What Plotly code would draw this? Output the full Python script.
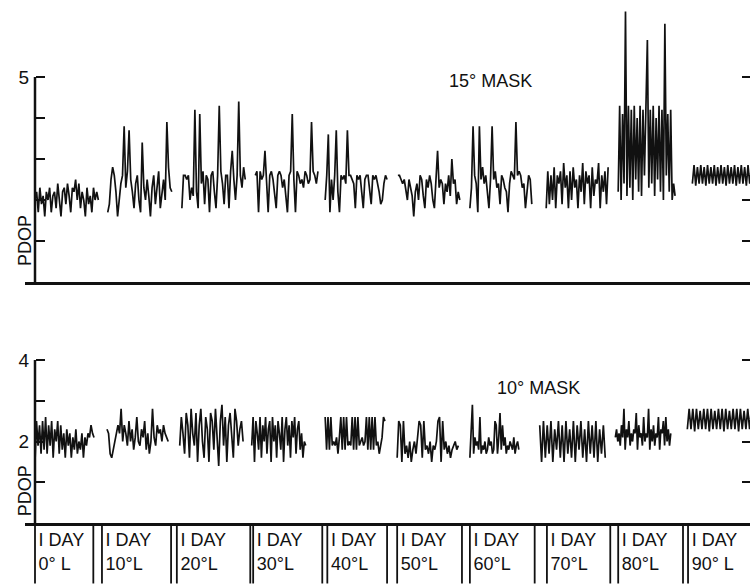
import plotly.graph_objects as go

W, H = 750, 586

# ---------------- data ----------------
LONGITUDES = ["0° L", "10°L", "20°L", "30°L", "40°L", "50°L", "60°L", "70°L", "80°L", "90° L"]
DAY_LABEL = "I DAY"

# x-extent of each one-day record (x unit = 1/10 of a panel cell)
TOP_START = [0.0, 10.1, 20.4, 30.6, 40.3, 50.4, 60.4, 71.0, 81.0, 91.3]
TOP_END = [8.8, 19.0, 29.2, 39.3, 48.9, 59.0, 69.0, 79.6, 88.9, 99.5]
BOT_START = [0.0, 10.0, 20.1, 30.1, 40.3, 50.3, 60.4, 70.1, 80.6, 90.6]
BOT_END = [8.2, 18.5, 28.9, 37.6, 48.6, 58.8, 67.2, 79.2, 88.3, 99.5]

# 15 deg mask PDOP records
M15_00 = [2.0, 2.2, 1.7, 2.3, 1.9, 2.1, 1.6, 2.2, 2.0, 2.3, 1.7, 2.1, 2.2, 1.8, 2.4, 2.0, 1.6, 2.2, 2.3, 1.9,
          2.4, 2.1, 1.7, 2.3, 2.2, 2.5, 2.0, 2.4, 1.8, 2.2, 2.0, 1.6, 2.3, 1.9, 2.1, 1.7, 2.3, 2.0, 2.2, 2.0]
M15_10 = [1.7, 1.9, 2.5, 2.8, 2.6, 2.2, 1.6, 2.0, 2.4, 2.6, 3.8, 2.3, 2.7, 3.7, 2.5, 2.2, 1.8, 2.4, 2.6, 2.0,
          1.7, 3.4, 2.3, 2.0, 2.5, 2.1, 1.6, 2.3, 2.6, 1.9, 2.4, 2.7, 1.8, 2.2, 2.5, 2.0, 3.9, 2.8, 2.3, 2.2]
M15_20 = [1.8, 2.6, 2.6, 2.5, 2.6, 2.0, 2.3, 2.1, 4.2, 2.2, 1.8, 4.1, 2.4, 2.7, 1.9, 2.6, 2.5, 1.7, 2.6, 2.7,
          2.2, 1.8, 2.6, 4.3, 2.7, 2.4, 1.9, 2.6, 2.6, 1.8, 2.7, 3.2, 2.5, 2.0, 2.6, 4.4, 2.6, 2.3, 2.8, 2.5]
M15_30 = [2.6, 2.7, 1.7, 2.7, 2.5, 2.6, 3.2, 2.4, 1.7, 2.6, 2.7, 2.5, 2.2, 1.8, 2.6, 2.7, 2.6, 2.3, 2.5, 2.1,
          1.7, 2.6, 2.7, 4.1, 2.5, 1.7, 2.7, 2.6, 2.4, 2.5, 2.3, 2.7, 2.6, 2.4, 2.5, 3.9, 2.7, 2.6, 2.4, 2.7]
M15_40 = [2.0, 2.6, 3.6, 1.7, 2.5, 2.0, 2.6, 3.7, 2.2, 1.7, 2.6, 2.5, 2.6, 2.4, 3.7, 2.6, 2.6, 2.5, 2.4, 1.8,
          2.6, 2.5, 2.6, 2.2, 1.8, 2.5, 2.6, 2.6, 2.3, 1.9, 2.6, 2.5, 2.6, 2.4, 2.2, 1.9, 2.0, 2.4, 2.6, 2.5]
M15_50 = [2.6, 2.6, 2.5, 2.4, 2.5, 2.2, 2.0, 2.5, 2.3, 2.1, 1.6, 2.2, 2.4, 2.0, 2.6, 2.5, 2.1, 1.8, 2.5, 2.3,
          2.6, 2.4, 2.0, 1.8, 2.5, 3.2, 2.3, 2.5, 2.4, 1.9, 2.4, 2.2, 2.6, 2.1, 3.0, 2.4, 2.5, 1.9, 2.2, 2.0]
M15_60 = [1.8, 2.3, 3.8, 2.6, 2.4, 1.7, 3.8, 2.5, 2.8, 2.4, 2.6, 2.2, 1.8, 2.5, 3.8, 2.5, 2.7, 2.3, 2.4, 1.9,
          2.6, 2.5, 2.3, 2.2, 1.7, 2.4, 2.7, 2.6, 2.5, 3.9, 2.6, 2.7, 2.6, 2.3, 2.4, 1.8, 2.2, 2.6, 2.5, 1.9]
M15_70 = [1.8, 2.7, 1.9, 2.6, 2.0, 2.8, 1.8, 2.6, 2.4, 2.7, 1.9, 2.9, 2.3, 2.6, 1.8, 2.7, 2.0, 2.8, 2.3, 2.5,
          1.8, 2.6, 2.2, 2.9, 1.9, 2.7, 2.4, 2.6, 1.8, 2.8, 2.1, 2.5, 2.4, 2.9, 1.8, 2.6, 2.2, 2.7, 1.9, 2.8]
M15_80 = [2.2, 4.3, 2.0, 4.1, 2.4, 6.6, 2.1, 4.3, 2.3, 4.2, 2.0, 4.3, 2.5, 4.0, 2.2, 4.3, 2.1, 4.2, 2.6, 4.1,
          5.9, 2.3, 4.2, 2.4, 4.3, 2.1, 4.0, 2.5, 4.3, 2.2, 4.2, 2.0, 6.3, 2.6, 4.1, 2.2, 4.2, 2.0, 2.4, 2.1]
M15_90 = [2.4, 2.85, 2.35, 2.8, 2.4, 2.85, 2.4, 2.8, 2.35, 2.85, 2.4, 2.8, 2.4, 2.85, 2.35, 2.8, 2.4, 2.85,
          2.4, 2.8, 2.35, 2.85, 2.4, 2.8, 2.4, 2.85, 2.35, 2.8, 2.4, 2.85, 2.4, 2.8, 2.35, 2.85, 2.4, 2.8]

# 10 deg mask PDOP records
M10_00 = [1.5, 2.5, 1.9, 2.4, 1.7, 2.5, 1.8, 2.6, 1.7, 2.4, 1.9, 2.5, 1.6, 2.3, 2.0, 2.5, 1.7, 2.4, 1.8, 2.2,
          1.6, 2.3, 1.9, 2.2, 1.6, 2.1, 1.8, 2.3, 1.7, 2.0, 1.8, 2.2, 1.6, 2.1, 1.9, 2.2, 2.1, 2.4, 2.2, 2.1]
M10_10 = [2.3, 2.2, 1.7, 1.6, 1.8, 2.0, 2.2, 2.4, 2.2, 2.8, 2.0, 2.4, 2.2, 1.9, 2.5, 2.0, 2.3, 1.8, 2.1, 2.6,
          2.0, 1.9, 2.3, 2.1, 2.5, 1.8, 2.2, 1.7, 2.0, 2.8, 2.1, 1.9, 2.4, 2.2, 2.3, 2.0, 2.4, 2.2, 2.1, 2.0]
M10_20 = [1.9, 2.6, 2.2, 1.7, 2.7, 2.4, 1.6, 2.8, 2.2, 1.9, 2.7, 1.5, 2.4, 2.8, 2.0, 1.6, 2.6, 2.3, 1.5, 2.7,
          2.5, 1.8, 2.8, 2.2, 1.4, 2.5, 2.9, 1.9, 2.6, 1.5, 2.4, 2.7, 2.0, 1.6, 2.8, 2.5, 1.9, 2.3, 2.5, 2.0]
M10_30 = [1.9, 2.6, 1.5, 2.5, 2.2, 1.8, 2.6, 1.6, 2.4, 2.0, 2.6, 1.7, 2.3, 2.5, 1.5, 2.6, 2.0, 2.4, 1.6, 2.5,
          2.2, 1.8, 2.6, 1.5, 2.3, 2.6, 1.9, 2.4, 1.6, 2.5, 2.1, 2.6, 1.7, 2.3, 2.5, 1.8, 2.2, 1.6, 2.0, 1.9]
M10_40 = [2.6, 1.8, 2.6, 1.8, 2.6, 1.9, 2.0, 1.9, 2.1, 1.7, 2.1, 2.6, 1.8, 2.6, 1.8, 2.6, 1.9, 2.0, 1.9, 2.6,
          1.8, 2.6, 1.8, 2.6, 1.9, 2.0, 2.1, 1.9, 2.0, 2.6, 1.8, 2.6, 1.8, 2.6, 1.8, 2.6, 1.9, 2.0, 1.7, 1.9,
          2.1, 2.6, 2.5]
M10_50 = [1.6, 2.5, 2.4, 1.5, 2.5, 1.7, 1.9, 1.6, 2.0, 1.5, 1.8, 2.0, 1.7, 2.1, 2.5, 2.4, 1.6, 2.5, 1.8, 1.9,
          1.7, 2.0, 1.5, 1.9, 1.8, 2.0, 2.5, 2.6, 1.5, 2.5, 1.8, 2.0, 1.7, 1.9, 1.6, 1.8, 1.9, 2.0, 1.8, 1.9]
M10_60 = [1.6, 2.3, 2.9, 1.7, 2.1, 1.9, 2.0, 1.8, 2.6, 1.7, 1.9, 1.8, 2.0, 1.7, 1.8, 2.1, 1.9, 2.0, 1.7, 1.8,
          2.5, 2.4, 1.7, 2.1, 2.7, 1.8, 2.4, 1.9, 2.1, 1.7, 1.9, 1.8, 2.0, 1.9, 1.8, 2.1, 1.7, 1.9, 2.0, 1.8]
M10_70 = [2.4, 1.5, 2.5, 1.6, 2.4, 1.7, 2.5, 1.5, 2.3, 1.8, 2.5, 1.6, 2.4, 1.5, 2.5, 1.7, 2.3, 1.6, 2.5, 1.5,
          2.4, 1.8, 2.5, 1.6, 2.3, 1.5, 2.5, 1.7, 2.4, 1.6, 2.5, 1.5, 2.3, 1.7, 2.4, 1.6]
M10_80 = [2.1, 2.3, 2.0, 2.2, 1.9, 2.4, 2.1, 2.8, 1.8, 2.3, 2.1, 2.5, 1.9, 2.2, 2.0, 2.3, 2.2, 2.7, 1.8, 2.4,
          2.1, 2.2, 1.9, 2.6, 2.0, 2.2, 2.1, 2.8, 1.8, 2.3, 2.0, 2.4, 1.9, 2.2, 2.1, 2.6, 1.8, 2.3, 2.2, 2.5,
          1.9, 2.6, 2.0, 2.3, 1.9, 2.2]
M10_90 = [2.3, 2.8, 2.3, 2.8, 2.25, 2.8, 2.3, 2.75, 2.3, 2.8, 2.3, 2.8, 2.25, 2.8, 2.3, 2.75, 2.3, 2.8, 2.3,
          2.8, 2.25, 2.8, 2.3, 2.75, 2.3, 2.8, 2.3, 2.8, 2.25, 2.8, 2.3, 2.75, 2.3, 2.8, 2.3, 2.8]

TOP_RECORDS = [M15_00, M15_10, M15_20, M15_30, M15_40, M15_50, M15_60, M15_70, M15_80, M15_90]
BOT_RECORDS = [M10_00, M10_10, M10_20, M10_30, M10_40, M10_50, M10_60, M10_70, M10_80, M10_90]

# table cell rules (pairs of vertical lines between days)
RULE_A = [8.1, 18.9, 29.9, 39.9, 48.9, 59.3, 69.4, 79.9, 90.0]
RULE_B = [9.3, 19.7, 30.3, 40.6, 50.3, 60.4, 71.1, 81.0, 90.7]

TOP_TICKS = [1, 2, 3, 4, 5]
TOP_TICKTEXT = ["", "", "", "", "5"]
BOT_TICKS = [1, 2, 3, 4]
BOT_TICKTEXT = ["", "2", "", "4"]
TOP_RIGHT_TICKS = [1, 2, 5]
BOT_RIGHT_TICKS = [1, 2, 4]

# ---------------- build ----------------
def px_y(p):
    return 1 - p / H


FONT = "Liberation Sans, Arial, sans-serif"
INK = "#111111"

fig = go.Figure()


def add_records(starts, ends, records, xa, ya):
    for s, e, rec in zip(starts, ends, records):
        n = len(rec)
        xs = [s + (e - s) * k / (n - 1) for k in range(n)]
        fig.add_trace(go.Scatter(x=xs, y=rec, mode="lines",
                                 line=dict(color=INK, width=1.7),
                                 xaxis=xa, yaxis=ya, showlegend=False, hoverinfo="skip"))


add_records(TOP_START, TOP_END, TOP_RECORDS, "x", "y")
add_records(BOT_START, BOT_END, BOT_RECORDS, "x2", "y2")

# placeholders so the right-hand tick axes are rendered
fig.add_trace(go.Scatter(x=[None], y=[None], xaxis="x", yaxis="y4", showlegend=False, hoverinfo="skip"))
fig.add_trace(go.Scatter(x=[None], y=[None], xaxis="x2", yaxis="y5", showlegend=False, hoverinfo="skip"))

# table rules
lx, ly = [0, 0, None], [1, 0.04, None]
for a, b in zip(RULE_A, RULE_B):
    lx += [a, a, None, b, b, None]
    ly += [1, 0.04, None, 1, 0.04, None]
fig.add_trace(go.Scatter(x=lx, y=ly, mode="lines", line=dict(color=INK, width=1.8),
                         xaxis="x3", yaxis="y3", showlegend=False, hoverinfo="skip"))

# table text
cell_left = [0.0] + RULE_B
fig.add_trace(go.Scatter(
    x=[c + 0.5 for c in cell_left] * 2,
    y=[0.71] * len(cell_left) + [0.32] * len(cell_left),
    mode="text",
    text=[DAY_LABEL] * len(cell_left) + LONGITUDES,
    textposition="middle right",
    textfont=dict(family=FONT, size=18, color=INK),
    xaxis="x3", yaxis="y3", showlegend=False, hoverinfo="skip"))

XDOM = [25 / W, 1]
XRANGE = [-1.389, 99.306]
top_dom = [px_y(282), 1]
bot_dom = [px_y(523), px_y(340)]
tab_dom = [0, px_y(523)]
TOP_RANGE = [0, 282 / 41.0]
BOT_RANGE = [0, 183 / 40.75]

common_x = dict(domain=XDOM, range=XRANGE, showgrid=False, zeroline=False, showticklabels=False,
                ticks="", showline=True, linecolor=INK, linewidth=2.5)
ycommon = dict(showgrid=False, zeroline=False, showline=False, ticks="inside", ticklen=9,
               tickwidth=2, tickcolor=INK, anchor="free", position=35 / W,
               ticklabelstandoff=6,
               tickfont=dict(family=FONT, size=19, color=INK))
ymirror = dict(showgrid=False, zeroline=False, showline=False, ticks="inside", ticklen=8,
               tickwidth=2, tickcolor=INK, side="right", showticklabels=False)

fig.update_layout(
    width=W, height=H, margin=dict(l=0, r=0, t=0, b=0),
    paper_bgcolor="white", plot_bgcolor="white",
    xaxis=dict(common_x, anchor="y"),
    xaxis2=dict(common_x, anchor="y2", matches="x"),
    xaxis3=dict(domain=XDOM, range=XRANGE, visible=False, anchor="y3", matches="x"),
    yaxis=dict(ycommon, domain=top_dom, range=TOP_RANGE,
               tickvals=TOP_TICKS, ticktext=TOP_TICKTEXT),
    yaxis2=dict(ycommon, domain=bot_dom, range=BOT_RANGE,
                tickvals=BOT_TICKS, ticktext=BOT_TICKTEXT),
    yaxis3=dict(domain=tab_dom, range=[0, 1], visible=False, anchor="x3"),
    yaxis4=dict(ymirror, overlaying="y", anchor="x", range=TOP_RANGE, tickvals=TOP_RIGHT_TICKS),
    yaxis5=dict(ymirror, overlaying="y2", anchor="x2", range=BOT_RANGE, tickvals=BOT_RIGHT_TICKS),
    font=dict(family=FONT, color=INK),
)

# y-axis lines that stop at the top labelled tick
fig.add_shape(type="line", xref="x", yref="y", x0=0, x1=0, y0=0, y1=TOP_TICKS[-1],
              line=dict(color=INK, width=2.5))
fig.add_shape(type="line", xref="x2", yref="y2", x0=0, x1=0, y0=0, y1=BOT_TICKS[-1],
              line=dict(color=INK, width=2.5))

fig.add_annotation(text="15° MASK", xref="x", yref="y", x=63.3, y=4.9, showarrow=False,
                   font=dict(family=FONT, size=18, color=INK))
fig.add_annotation(text="10° MASK", xref="x2", yref="y2", x=69.9, y=3.31, showarrow=False,
                   font=dict(family=FONT, size=18, color=INK))
fig.add_annotation(text="PDOP", xref="paper", yref="y", x=13 / W, y=1.0, textangle=-90,
                   showarrow=False, font=dict(family=FONT, size=18, color=INK))
fig.add_annotation(text="PDOP", xref="paper", yref="y2", x=13 / W, y=0.78, textangle=-90,
                   showarrow=False, font=dict(family=FONT, size=18, color=INK))

fig.write_html("out.html")
